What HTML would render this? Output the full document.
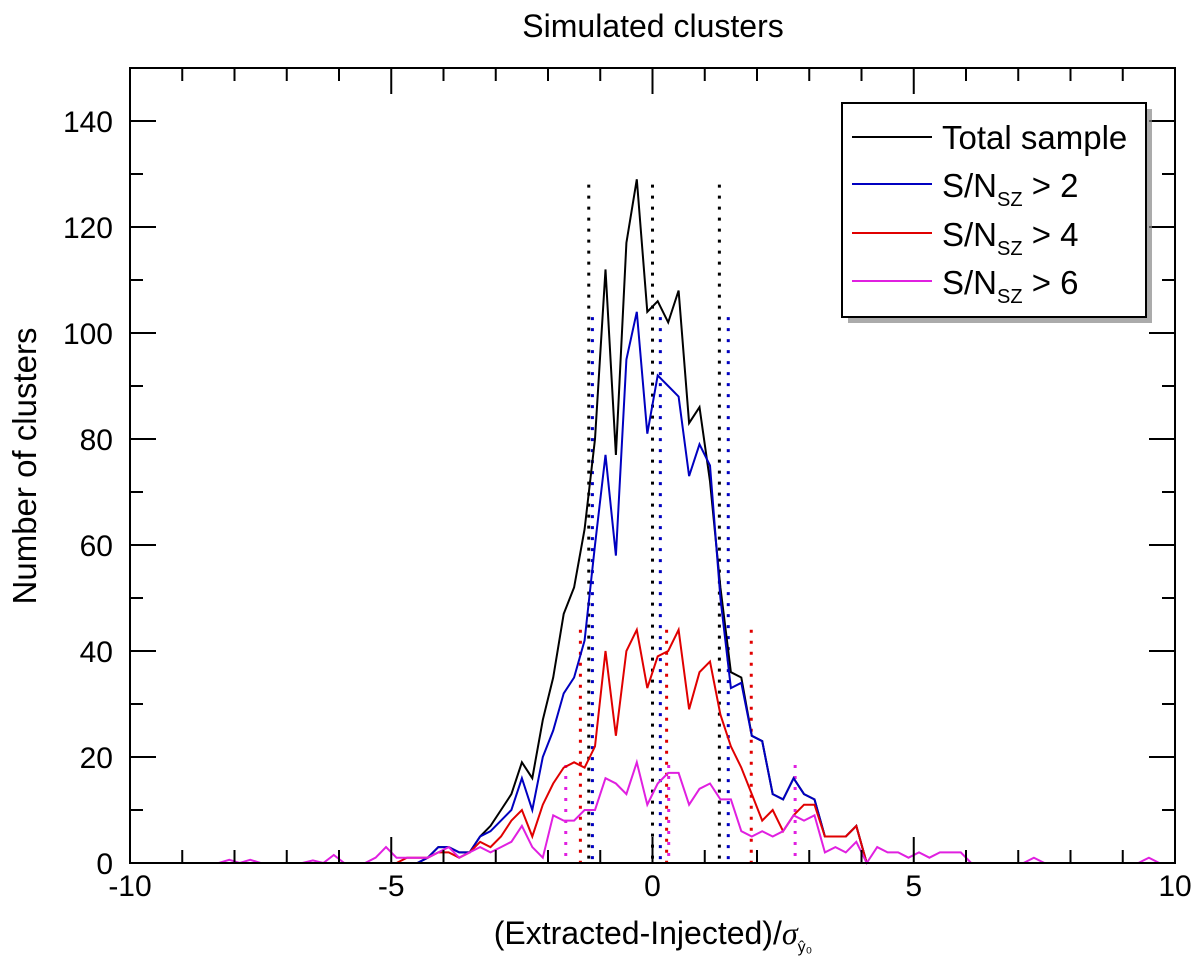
<!DOCTYPE html>
<html><head><meta charset="utf-8"><style>
html,body{margin:0;padding:0;background:#fff;}
svg{display:block;font-family:"Liberation Sans",sans-serif;}
</style></head><body>
<svg id="chart" width="1200" height="957">
<text x="653" y="37" font-size="32" text-anchor="middle">Simulated clusters</text>
<g id="plot"></g>
<text x="653" y="944" font-size="32" text-anchor="middle">(Extracted-Injected)/<tspan font-family="Liberation Serif" font-style="italic">σ</tspan><tspan font-size="16" dy="8">ŷ₀</tspan></text>
<text transform="translate(36,466) rotate(-90)" font-size="33" text-anchor="middle">Number of clusters</text>
<g>
<rect x="848" y="109" width="304" height="214" fill="#888" opacity="0.7"/>
<rect x="842" y="103" width="304" height="214" fill="#fff" stroke="#000" stroke-width="2"/>
<line x1="852" y1="137" x2="932" y2="137" stroke="#000" stroke-width="2"/>
<text x="942" y="149" font-size="33">Total sample</text>
<line x1="852" y1="184" x2="932" y2="184" stroke="#0000c0" stroke-width="2"/>
<text x="942" y="197" font-size="33">S/N<tspan font-size="20" dy="9">SZ</tspan><tspan dy="-9"> &gt; 2</tspan></text>
<line x1="852" y1="233" x2="932" y2="233" stroke="#e00000" stroke-width="2"/>
<text x="942" y="246" font-size="33">S/N<tspan font-size="20" dy="9">SZ</tspan><tspan dy="-9"> &gt; 4</tspan></text>
<line x1="852" y1="281" x2="932" y2="281" stroke="#e020e0" stroke-width="2"/>
<text x="942" y="294" font-size="33">S/N<tspan font-size="20" dy="9">SZ</tspan><tspan dy="-9"> &gt; 6</tspan></text>
</g>
</svg>
<script>
const xTicks=[-10,-5,0,5,10];
const yTicks=[0,20,40,60,80,100,120,140];
const innerStart=-4.9;
const totalVals=[0,0,0,1,3,3,2,2,5,7,10,13,19,16,27,35,47,52,63,80,112,77,117,129,104,106,102,108,83,86,72,52,36,35,24,23,13,12,16,13,12,5,5,5,7,0];
const sn2Vals=[0,0,0,1,3,3,2,2,5,6,8,10,16,10,20,25,32,35,42,60,77,58,95,104,81,92,90,88,73,79,75,50,33,34,24,23,13,12,16,13,12,5,5,5,7,0];
const sn4Vals=[0,1,1,1,2,2,1,2,4,3,5,8,10,5,11,15,18,19,18,22,40,24,40,44,33,39,40,44,29,36,38,28,22,18,13,8,10,6,9,11,11,5,5,5,7,0];
const fullStart=-9.9;
const sn6Vals=[0,0,0,0,0,0,0,0,0,0.6,0,0.6,0,0,0,0,0,0.5,0,1.5,0,0,0,1,3,1,1,1,1,2,3,1,2,3,2,3,4,7,3,1,9,8,8,10,10,16,15,13,19,11,15,17,17,11,14,15,12,12,6,5,6,5,6,9,8,9,2,3,2,4,0,3,2,2,1,2,1,2,2,2,0,0,0,0,0,0,1,0,0,0,0,0,0,0,0,0,0,1,0,0];
const binStep=0.2;
const medTotal=[-1.22,0,1.28], medTotalTop=128;
const medSn2=[-1.15,0.15,1.45], medSn2Top=103;
const medSn4=[-1.38,0.27,1.89], medSn4Top=44;
const medSn6=[-1.66,0.31,2.73], medSn6Top=18.5;

const L=130,R=1175,T=68,B=863;
const X=v=>L+(v+10)/20*(R-L);
const Y=v=>B-v/150*(B-T);
const NS="http://www.w3.org/2000/svg";
const g=document.getElementById('plot');
function mk(tag,attrs,parent){const e=document.createElementNS(NS,tag);for(const k in attrs)e.setAttribute(k,attrs[k]);(parent||g).appendChild(e);return e;}

function meds(xs,top,col,name){xs.forEach((v,i)=>{const e=mk('line',{x1:X(v),x2:X(v),y1:Y(top),y2:B,stroke:col,'stroke-width':3,'stroke-dasharray':'3,8'});

});}
meds(medTotal,medTotalTop,'#000','total-stat');
meds(medSn2,medSn2Top,'#0000c0','sn2-stat');
meds(medSn4,medSn4Top,'#e00000','sn4-stat');
meds(medSn6,medSn6Top,'#e020e0','sn6-stat');

function series(vals,start,col,name){const pts=vals.map((v,i)=>X(start+i*binStep).toFixed(1)+','+Y(v).toFixed(1)).join(' ');
const e=mk('polyline',{points:pts,fill:'none',stroke:col,'stroke-width':2,'stroke-linejoin':'miter'});

}
series(totalVals,innerStart,'#000','total-sample-line');
series(sn2Vals,innerStart,'#0000c0','sn2-line');
series(sn4Vals,innerStart,'#e00000','sn4-line');
series(sn6Vals,fullStart,'#e020e0','sn6-line');

const fr=mk('rect',{x:L,y:T,width:R-L,height:B-T,fill:'none',stroke:'#000','stroke-width':2});


for(let v=-10;v<=10;v++){const maj=v%5===0;const len=maj?26:13;
mk('line',{x1:X(v),x2:X(v),y1:B,y2:B-len,stroke:'#000','stroke-width':2});
mk('line',{x1:X(v),x2:X(v),y1:T,y2:T+len,stroke:'#000','stroke-width':2});}
xTicks.forEach(v=>{const t=mk('text',{x:X(v),y:B+33,'font-size':30,'text-anchor':'middle'});t.textContent=String(v);

});
for(let v=0;v<=150;v+=10){const maj=v%20===0;const len=maj?26:13;
mk('line',{x1:L,x2:L+len,y1:Y(v),y2:Y(v),stroke:'#000','stroke-width':2});
mk('line',{x1:R,x2:R-len,y1:Y(v),y2:Y(v),stroke:'#000','stroke-width':2});}
yTicks.forEach(v=>{const t=mk('text',{x:L-17,y:Y(v)+11,'font-size':30,'text-anchor':'end'});t.textContent=String(v);

});
</script>
</body></html>
